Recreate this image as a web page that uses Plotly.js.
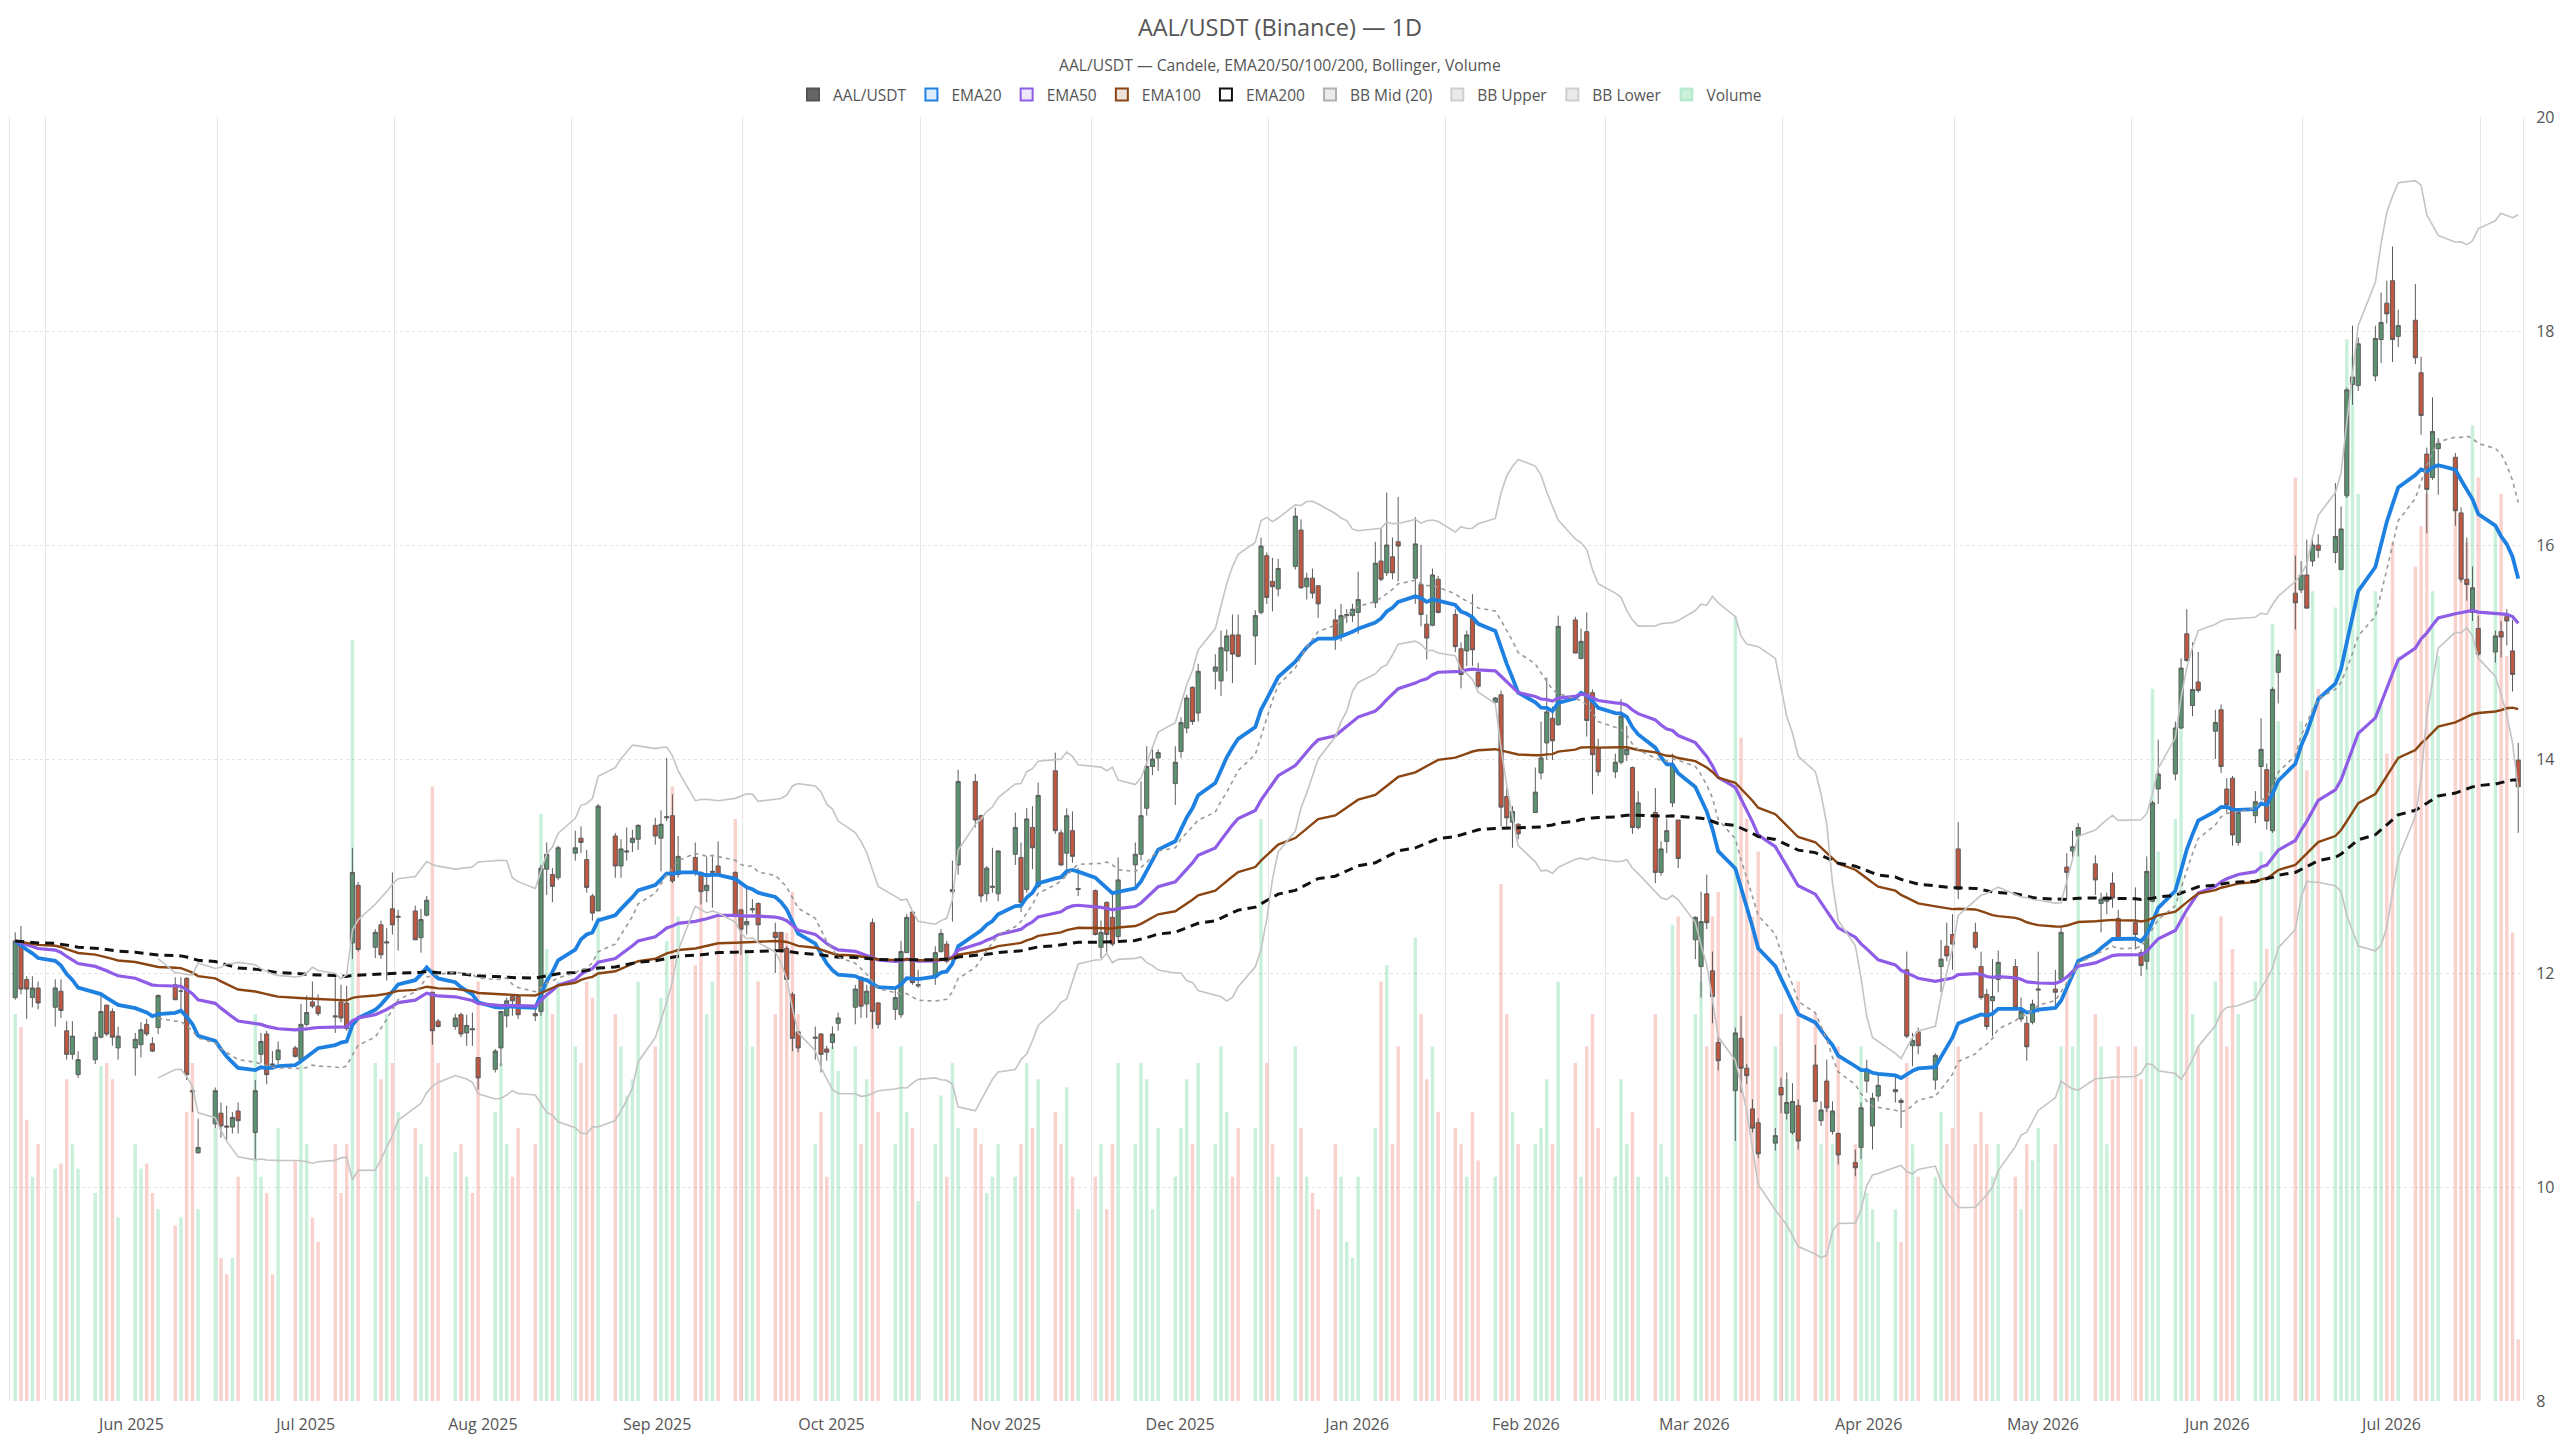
<!DOCTYPE html>
<html>
<head>
<meta charset="utf-8">
<title>AAL/USDT (Binance) — 1D</title>
<script src="https://cdn.plot.ly/plotly-3.0.1.min.js"></script>
<style>
  html, body { margin: 0; padding: 0; background: #fff; }
  #chart { width: 2560px; height: 1440px; }
</style>
</head>
<body>
<div id="chart"></div>
<script>
// daily candles, Mon-Fri, first session 2025-05-26 (one row per week)
const firstDay = '2025-05-26';

const open = [
  11.77, 12.28, 11.94, 11.77, 11.86,  11.68, 11.83, 11.46, 11.24, 11.05,
  11.19, 11.40, 11.70, 11.64, 11.30,  11.30, 11.33, 11.52, 11.34, 11.49,
  11.89, 11.83, 11.95, 10.90, 10.32,  10.59, 10.69, 10.57, 10.56, 10.71,
  10.51, 11.24, 11.43, 11.15, 11.19,  11.30, 11.19, 11.52, 11.73, 11.69,
  11.60, 11.73, 11.72, 12.28, 12.82,  12.24, 12.45, 12.28, 12.60, 12.52,
  12.58, 12.33, 12.54, 11.82, 11.55,  11.50, 11.61, 11.44, 11.48, 11.21,
  11.10, 11.30, 11.60, 11.78, 11.78,  11.62, 11.64, 12.97, 12.92, 12.89,
  13.12, 13.26, 13.06, 12.72, 12.58,  13.28, 13.00, 13.13, 13.22, 13.25,
  13.38, 13.26, 13.45, 13.47, 12.92,  13.08, 12.94, 12.77, 12.94, 13.00,
  12.94, 12.59, 12.45, 12.59, 12.65,  12.38, 12.38, 12.23, 11.80, 11.45,
  11.39, 11.43, 11.29, 11.35, 11.53,  11.68, 11.96, 11.71, 12.47, 11.72,
  11.66, 11.61, 12.19, 12.57, 11.88,  11.96, 12.20, 12.27, 12.76, 13.01,
  13.79, 13.47, 12.74, 12.80, 12.74,  13.11, 13.08, 12.78, 13.36, 12.81,
  13.89, 13.31, 13.12, 13.33, 12.78,  12.77, 12.24, 12.66, 12.52, 12.34,
  13.01, 13.11, 13.54, 13.93, 14.01,  13.77, 14.07, 14.29, 14.67, 14.43,
  14.82, 14.73, 15.01, 15.16, 15.16,  15.15, 15.37, 15.90, 15.66, 15.59,
  15.80, 16.14, 15.61, 15.69, 15.62,  15.30, 15.15, 15.34, 15.34, 15.37,
  15.46, 15.85, 15.74, 15.89, 16.03,  15.69, 15.63, 15.26, 15.25, 15.68,
  15.35, 15.03, 15.01, 15.32, 14.81,  14.53, 14.60, 13.65, 13.41, 13.39,
  13.50, 13.87, 14.15, 14.38, 14.32,  15.30, 14.94, 15.19, 14.62, 14.10,
  13.88, 13.97, 14.04, 13.92, 13.36,  13.50, 12.94, 13.23, 13.59, 13.43,
  12.31, 12.06, 12.74, 12.02, 11.35,  10.90, 11.39, 11.11, 10.73, 10.60,
  10.41, 10.93, 10.69, 10.51, 10.76,  11.14, 10.62, 10.99, 10.52, 10.50,
  10.23, 10.37, 10.99, 10.57, 10.85,  10.89, 10.81, 12.03, 11.32, 11.45,
  11.00, 12.06, 12.25, 12.36, 13.16,  12.38, 12.06, 11.80, 11.74, 11.94,
  12.06, 11.57, 11.53, 11.54, 11.84,  11.85, 11.94, 12.99, 13.14, 13.28,
  13.02, 12.65, 12.67, 12.84, 12.51,  12.47, 12.19, 12.11, 12.67, 13.72,
  13.86, 14.29, 15.17, 14.50, 14.72,  14.26, 14.46, 13.72, 13.82, 13.22,
  13.47, 13.93, 13.90, 13.33, 14.81,  15.55, 15.58, 15.72, 15.85, 16.00,
  15.93, 15.77, 16.46, 17.50, 17.49,  17.58, 17.92, 18.26, 18.47, 17.95,
  18.10, 17.61, 16.85, 16.63, 16.90,  16.82, 16.30, 15.68, 15.37, 15.22,
  15.00, 15.19, 15.33, 15.01, 13.99
];

const high = [
  12.38, 12.44, 11.97, 11.97, 11.92,  11.94, 11.94, 11.55, 11.55, 11.27,
  11.45, 11.80, 11.70, 11.67, 11.50,  11.44, 11.54, 11.57, 11.40, 11.80,
  11.96, 11.96, 11.96, 10.94, 10.64,  10.93, 10.79, 10.76, 10.70, 10.79,
  11.00, 11.44, 11.46, 11.27, 11.36,  11.32, 11.71, 11.79, 11.92, 11.80,
  11.96, 11.89, 11.88, 13.17, 12.85,  12.41, 12.49, 12.42, 12.94, 12.59,
  12.63, 12.60, 12.72, 11.82, 11.57,  11.62, 11.63, 11.61, 11.63, 11.21,
  11.29, 11.64, 11.77, 11.78, 11.80,  11.69, 13.01, 13.22, 12.98, 13.19,
  13.33, 13.37, 13.15, 12.74, 13.58,  13.31, 13.25, 13.36, 13.34, 13.39,
  13.45, 13.52, 14.01, 13.67, 13.28,  13.22, 12.95, 13.09, 13.09, 13.23,
  12.95, 12.60, 12.81, 12.69, 12.66,  12.47, 12.38, 12.25, 11.82, 11.46,
  11.50, 11.44, 11.32, 11.50, 11.63,  11.89, 11.97, 11.89, 12.51, 11.73,
  11.85, 12.30, 12.55, 12.58, 12.03,  12.25, 12.41, 12.30, 13.05, 13.90,
  13.86, 13.48, 13.00, 13.17, 13.15,  13.50, 13.22, 13.54, 13.56, 13.78,
  14.06, 13.34, 13.54, 13.51, 12.98,  12.78, 12.49, 12.67, 12.75, 13.08,
  13.22, 13.79, 14.12, 14.10, 14.09,  14.12, 14.39, 14.60, 14.68, 14.89,
  14.98, 15.20, 15.21, 15.35, 15.35,  15.39, 16.07, 15.93, 15.88, 15.87,
  16.35, 16.24, 15.74, 15.78, 15.62,  15.40, 15.45, 15.40, 15.45, 15.75,
  16.03, 16.16, 16.49, 16.07, 16.45,  16.26, 16.00, 15.35, 15.78, 15.71,
  15.40, 15.09, 15.20, 15.54, 14.90,  14.58, 14.64, 13.73, 13.56, 13.40,
  13.92, 14.35, 14.76, 14.49, 15.34,  15.33, 15.22, 15.37, 14.65, 14.19,
  14.05, 14.56, 14.31, 13.93, 13.70,  13.73, 13.23, 13.44, 14.05, 13.43,
  12.53, 12.76, 12.92, 12.20, 11.41,  11.49, 11.60, 11.15, 10.82, 10.64,
  10.55, 11.02, 11.07, 10.97, 10.82,  11.33, 10.80, 11.19, 10.80, 10.51,
  10.35, 10.79, 11.19, 10.88, 11.05,  11.04, 10.83, 12.20, 11.44, 11.49,
  11.25, 12.31, 12.47, 12.55, 13.41,  12.47, 12.20, 11.85, 12.13, 12.21,
  12.13, 11.77, 11.60, 11.75, 12.20,  12.03, 12.44, 13.12, 13.33, 13.40,
  13.10, 12.75, 12.75, 12.94, 12.59,  12.80, 12.22, 13.09, 13.61, 14.18,
  14.35, 14.94, 15.40, 15.09, 15.00,  14.46, 14.51, 13.82, 13.84, 13.52,
  13.70, 14.38, 13.96, 14.67, 15.02,  15.90, 15.85, 16.05, 16.07, 16.10,
  16.58, 16.36, 17.47, 18.05, 17.94,  18.05, 18.36, 18.47, 18.79, 18.20,
  18.44, 17.76, 16.91, 17.38, 17.00,  16.86, 16.35, 16.07, 15.80, 15.34,
  15.20, 15.29, 15.40, 15.30, 14.15
];

const low = [
  11.75, 11.80, 11.57, 11.68, 11.66,  11.50, 11.58, 11.19, 11.19, 11.02,
  11.15, 11.39, 11.41, 11.32, 11.19,  11.04, 11.21, 11.41, 11.26, 11.43,
  11.75, 11.63, 11.00, 10.70, 10.31,  10.55, 10.46, 10.44, 10.50, 10.50,
  10.26, 11.16, 10.96, 11.13, 11.15,  11.21, 11.16, 11.50, 11.67, 11.60,
  11.44, 11.54, 11.46, 12.13, 12.20,  12.14, 12.13, 11.93, 12.36, 12.21,
  12.31, 12.19, 12.53, 11.33, 11.49,  11.47, 11.40, 11.32, 11.32, 10.91,
  11.07, 11.13, 11.49, 11.60, 11.57,  11.55, 11.60, 12.73, 12.66, 12.87,
  13.05, 13.12, 12.75, 12.49, 12.58,  12.89, 12.89, 13.05, 13.13, 13.15,
  13.20, 12.95, 13.42, 12.84, 12.89,  12.91, 12.64, 12.66, 12.61, 12.91,
  12.52, 12.17, 12.36, 12.56, 12.31,  12.00, 12.19, 11.94, 11.27, 11.26,
  11.19, 11.07, 11.18, 11.29, 11.46,  11.52, 11.58, 11.58, 11.48, 11.48,
  11.56, 11.58, 12.19, 11.89, 11.86,  11.89, 12.19, 12.09, 12.48, 12.92,
  13.36, 12.66, 12.67, 12.75, 12.67,  13.01, 12.57, 12.75, 12.97, 12.79,
  13.30, 13.00, 12.91, 13.03, 12.72,  12.35, 12.14, 12.19, 12.25, 12.30,
  12.81, 13.05, 13.47, 13.85, 13.89,  13.57, 14.01, 14.24, 14.32, 14.35,
  14.65, 14.59, 14.82, 14.71, 14.95,  14.88, 15.35, 15.45, 15.38, 15.52,
  15.77, 15.59, 15.49, 15.50, 15.32,  15.02, 15.10, 15.27, 15.28, 15.17,
  15.41, 15.66, 15.71, 15.68, 15.66,  15.45, 15.24, 14.93, 15.24, 15.36,
  15.00, 14.66, 14.87, 14.87, 14.66,  14.52, 13.37, 13.37, 13.17, 13.25,
  13.50, 13.81, 13.99, 13.99, 14.31,  14.99, 14.93, 14.21, 13.67, 13.84,
  13.82, 13.95, 13.98, 13.30, 13.34,  12.84, 12.91, 13.12, 13.55, 12.98,
  12.13, 11.77, 12.41, 11.53, 11.09,  10.43, 10.88, 10.96, 10.51, 10.27,
  10.34, 10.69, 10.63, 10.49, 10.35,  10.79, 10.57, 10.70, 10.49, 10.21,
  10.10, 10.26, 10.88, 10.35, 10.80,  10.79, 10.55, 11.39, 11.13, 11.24,
  10.91, 11.82, 12.11, 12.03, 12.69,  12.22, 11.75, 11.47, 11.41, 11.82,
  11.66, 11.54, 11.18, 11.52, 11.63,  11.68, 11.92, 12.69, 13.06, 13.09,
  12.73, 12.38, 12.55, 12.61, 12.30,  12.22, 11.97, 12.03, 12.66, 13.58,
  13.80, 14.28, 14.91, 14.40, 14.62,  14.00, 13.87, 13.50, 13.19, 13.19,
  13.40, 13.62, 13.34, 13.31, 14.52,  15.21, 15.55, 15.41, 15.80, 15.88,
  15.83, 15.77, 16.44, 17.31, 17.44,  17.53, 17.70, 18.07, 17.71, 17.85,
  17.69, 17.03, 16.11, 16.61, 16.47,  16.18, 15.65, 15.48, 15.29, 14.96,
  14.90, 14.95, 15.06, 14.63, 13.31
];

const close = [
  12.30, 11.85, 11.85, 11.86, 11.72,  11.86, 11.65, 11.24, 11.41, 11.19,
  11.40, 11.64, 11.43, 11.40, 11.41,  11.38, 11.47, 11.43, 11.27, 11.79,
  11.75, 11.83, 11.05, 10.89, 10.37,  10.90, 10.57, 10.56, 10.65, 10.62,
  10.90, 11.36, 11.05, 11.14, 11.28,  11.22, 11.52, 11.63, 11.69, 11.62,
  11.59, 11.58, 11.48, 12.94, 12.22,  12.38, 12.17, 12.29, 12.45, 12.53,
  12.31, 12.50, 12.68, 11.46, 11.50,  11.58, 11.43, 11.51, 11.47, 11.02,
  11.27, 11.64, 11.74, 11.74, 11.61,  11.60, 12.98, 13.11, 12.81, 13.17,
  13.17, 13.22, 12.80, 12.56, 13.56,  13.00, 13.16, 13.14, 13.26, 13.38,
  13.28, 13.39, 13.46, 12.86, 13.09,  12.95, 12.76, 12.82, 12.95, 12.91,
  12.53, 12.41, 12.48, 12.60, 12.45,  12.33, 12.21, 11.94, 11.39, 11.30,
  11.40, 11.24, 11.26, 11.43, 11.58,  11.85, 11.69, 11.83, 11.64, 11.52,
  11.77, 12.20, 12.52, 11.91, 11.89,  12.19, 12.37, 12.11, 12.78, 13.79,
  13.43, 12.72, 12.98, 12.81, 13.14,  13.36, 12.66, 13.44, 13.17, 13.66,
  13.33, 13.01, 13.47, 13.09, 12.79,  12.36, 12.38, 12.36, 12.27, 12.87,
  13.11, 13.47, 13.93, 14.00, 14.06,  13.97, 14.34, 14.57, 14.35, 14.82,
  14.86, 15.04, 15.15, 14.98, 14.96,  15.34, 15.99, 15.51, 15.61, 15.78,
  16.27, 15.60, 15.69, 15.55, 15.45,  15.13, 15.34, 15.35, 15.40, 15.49,
  15.83, 15.68, 16.00, 15.74, 15.99,  16.01, 15.35, 15.13, 15.72, 15.37,
  15.05, 14.79, 15.16, 15.02, 14.68,  14.57, 13.55, 13.45, 13.51, 13.30,
  13.69, 14.01, 14.44, 14.17, 15.24,  14.99, 15.10, 14.36, 14.04, 13.88,
  13.97, 14.40, 14.09, 13.36, 13.59,  12.94, 13.16, 13.33, 13.95, 13.07,
  12.52, 12.48, 12.47, 11.78, 11.18,  11.44, 11.11, 11.04, 10.55, 10.31,
  10.48, 10.86, 10.79, 10.80, 10.43,  10.80, 10.72, 10.74, 10.71, 10.30,
  10.18, 10.74, 11.10, 10.83, 10.95,  10.91, 10.79, 11.41, 11.37, 11.32,
  11.23, 12.13, 12.16, 12.27, 12.78,  12.24, 11.77, 11.50, 11.78, 12.10,
  11.68, 11.64, 11.31, 11.71, 11.85,  11.82, 12.38, 12.94, 13.18, 13.36,
  12.87, 12.69, 12.71, 12.70, 12.31,  12.36, 12.07, 12.95, 13.59, 13.86,
  14.29, 14.85, 14.92, 14.65, 14.64,  14.34, 13.93, 13.57, 13.29, 13.50,
  13.60, 14.09, 13.42, 14.65, 14.98,  15.46, 15.72, 15.41, 16.00, 15.95,
  16.08, 16.15, 17.45, 17.57, 17.88,  17.93, 18.08, 18.16, 17.92, 18.05,
  17.75, 17.21, 16.52, 17.06, 16.95,  16.32, 15.68, 15.63, 15.60, 14.98,
  15.15, 15.14, 15.29, 14.79, 13.74
];

// volume, thousands
const volume = [
   904,  874,  657,  524,  600,   543,  555,  752,  600,  543,
   486,  783,  790,  752,  429,   600,  543,  555,  486,  448,
   410,  429,  676,  790,  448,   638,  334,  296,  334,  524,
   904,  524,  486,  296,  638,   562,  790,  600,  429,  372,
   600,  486,  600, 1778, 1132,   790,  752,  904,  790,  676,
   638,  600,  524, 1436,  790,   581,  600,  524,  486,  980,
   676,  790,  600,  524,  638,   600, 1372, 1056,  904,  980,
   828,  790,  980,  942, 1132,   904,  828,  714,  752,  980,
   828,  942, 1075, 1436, 1132,  1018, 1189,  904,  980, 1132,
  1360, 1208, 1056,  828,  980,   904, 1056, 1094, 1189,  904,
   600,  676,  524,  828,  771,   828,  600,  752,  999,  676,
   600,  828,  676,  638,  467,   600,  714,  524,  790,  638,
   638,  600,  486,  524,  600,   524,  600,  790,  638,  752,
   676,  600,  733,  524,  448,   524,  600,  448,  600,  790,
   600,  790,  752,  448,  638,   524,  638,  752,  600,  790,
   600,  828,  676,  524,  638,   638, 1360,  790,  600,  524,
   828,  638,  524,  486,  448,   600,  524,  372,  334,  524,
   638,  980, 1018,  600,  828,  1083,  904,  752,  828,  676,
   638,  600,  524,  676,  562,   524, 1208,  904,  676,  600,
   600,  638,  752,  600,  980,   790,  524,  828,  904,  638,
   524,  752,  600,  676,  524,   904,  600,  524, 1113, 1132,
   904,  980,  828, 1132, 1189,  1835, 1550, 1360, 1132, 1284,
   828,  904,  752,  676,  980,   904,  600,  752,  600,  828,
   600,  828,  486,  448,  372,   448,  372,  790,  600,  524,
   524,  676,  600,  638,  828,   600,  676,  600,  524,  600,
   524,  448,  600,  562,  638,   600,  828,  980,  828, 1322,
   904,  828,  600,  752,  828,   828,  752, 1208, 1664, 1284,
  1360, 1588, 1132,  904,  828,   980, 1132,  828, 1056,  904,
   980, 1284, 1056, 1816, 1588,  2158, 1588, 1474, 1892, 1664,
  1854, 2006, 2481, 2443, 2120,  1892, 1626, 1512, 2006, 1740,
  1949, 2044, 2120, 1892, 1740,  2155, 1968, 2006, 2280, 2158,
  2044, 2120, 1740, 1094,  144
];

function tradingDays(start, n) {
    const out = [];
    const d = new Date(start + 'T00:00:00Z');
    while (out.length < n) {
        const wd = d.getUTCDay();
        if (wd !== 0 && wd !== 6) {
            out.push(d.toISOString().slice(0, 10) + ' 16:00');
        }
        d.setUTCDate(d.getUTCDate() + 1);
    }
    return out;
}

function ema(values, span) {
    const k = 2 / (span + 1);
    const out = [];
    values.forEach((v, i) => {
        out.push(i === 0 ? v : v * k + out[i - 1] * (1 - k));
    });
    return out;
}

function bollinger(values, period, mult) {
    const mid = [], upper = [], lower = [];
    values.forEach((v, i) => {
        if (i < period - 1) {
            mid.push(null); upper.push(null); lower.push(null);
            return;
        }
        const win = values.slice(i - period + 1, i + 1);
        const mean = win.reduce((a, b) => a + b, 0) / period;
        const variance = win.reduce((a, b) => a + (b - mean) * (b - mean), 0) / (period - 1);
        const sd = Math.sqrt(variance);
        mid.push(mean);
        upper.push(mean + mult * sd);
        lower.push(mean - mult * sd);
    });
    return { mid, upper, lower };
}

const dates = tradingDays(firstDay, close.length);
const bb = bollinger(close, 20, 2);

const volColors = close.map((c, i) => c >= open[i] ? 'rgba(38, 194, 110, 0.25)' : 'rgba(231, 76, 60, 0.25)');

function line(name, values, color, width, dash) {
    return {
        type: 'scatter',
        mode: 'lines',
        name: name,
        legendgroup: name,
        showlegend: false,
        x: dates,
        y: values,
        xaxis: 'x',
        yaxis: 'y2',
        line: { color: color, width: width, dash: dash || 'solid' },
        hoverinfo: 'skip'
    };
}

// legend swatches (boxes) for each series, like the original legend
function swatch(name, fill, border) {
    return {
        type: 'bar',
        name: name,
        legendgroup: name,
        x: [null],
        y: [null],
        xaxis: 'x',
        yaxis: 'y2',
        marker: { color: fill, line: { color: border, width: 2 } },
        hoverinfo: 'skip'
    };
}

const data = [
    {
        type: 'candlestick',
        name: 'AAL/USDT',
        legendgroup: 'AAL/USDT',
        showlegend: false,
        x: dates,
        open: open,
        high: high,
        low: low,
        close: close,
        xaxis: 'x',
        yaxis: 'y2',
        whiskerwidth: 0,
        increasing: { line: { color: '#5c5c5c', width: 1 }, fillcolor: '#5b9270' },
        decreasing: { line: { color: '#5c5c5c', width: 1 }, fillcolor: '#bf5741' }
    },
    line('EMA20', ema(close, 20), '#1e80e0', 3.8),
    line('EMA50', ema(close, 50), '#8e5ce6', 3.2),
    line('EMA100', ema(close, 100), '#8b4513', 2.4),
    line('EMA200', ema(close, 200), '#111111', 3.0, '9px,6px'),
    line('BB Mid (20)', bb.mid, '#9a9a9a', 1.6, '4px,4px'),
    line('BB Upper', bb.upper, '#c4c4c4', 1.6),
    line('BB Lower', bb.lower, '#c4c4c4', 1.6),
    {
        type: 'bar',
        name: 'Volume',
        legendgroup: 'Volume',
        showlegend: false,
        x: dates,
        y: volume,
        xaxis: 'x',
        yaxis: 'y',
        width: 0.6 * 86400000,
        marker: { color: volColors, line: { width: 0 } },
        hoverinfo: 'skip'
    },
    swatch('AAL/USDT', '#666666', '#555555'),
    swatch('EMA20', 'rgba(30,128,224,0.15)', '#1e80e0'),
    swatch('EMA50', 'rgba(142,92,230,0.15)', '#8e5ce6'),
    swatch('EMA100', 'rgba(139,69,19,0.15)', '#8b4513'),
    swatch('EMA200', 'rgba(255,255,255,1)', '#111111'),
    swatch('BB Mid (20)', 'rgba(154,154,154,0.2)', '#b0b0b0'),
    swatch('BB Upper', 'rgba(194,194,194,0.35)', '#cfcfcf'),
    swatch('BB Lower', 'rgba(194,194,194,0.35)', '#cfcfcf'),
    swatch('Volume', 'rgba(38,194,110,0.25)', 'rgba(38,194,110,0.25)')
];

const layout = {
    width: 2560,
    height: 1440,
    paper_bgcolor: '#ffffff',
    plot_bgcolor: '#ffffff',
    font: { family: '"Open Sans", verdana, arial, sans-serif', color: '#555555', size: 15 },
    margin: { l: 10, r: 37, t: 117, b: 39 },
    title: {
        text: 'AAL/USDT (Binance) — 1D',
        x: 0.5,
        xref: 'container',
        xanchor: 'center',
        y: 1 - 28 / 1440,
        yref: 'container',
        yanchor: 'middle',
        font: { size: 23.5, color: '#555555' }
    },
    annotations: [{
        text: 'AAL/USDT — Candele, EMA20/50/100/200, Bollinger, Volume',
        xref: 'paper',
        yref: 'paper',
        x: (1280 - 10) / 2513,
        y: 1 + (117 - 65) / 1284,
        xanchor: 'center',
        yanchor: 'middle',
        showarrow: false,
        font: { size: 15.7, color: '#555555' }
    }],
    showlegend: true,
    legend: {
        orientation: 'h',
        x: (1280 - 10) / 2513,
        xref: 'paper',
        xanchor: 'center',
        y: 1 + (117 - 95) / 1284,
        yref: 'paper',
        yanchor: 'middle',
        font: { size: 15.5, color: '#555555' },
        bgcolor: 'rgba(0,0,0,0)',
        itemwidth: 30,
        traceorder: 'normal'
    },
    xaxis: {
        type: 'date',
        range: ['2025-05-25 18:00', '2026-08-08 12:00'],
        rangeslider: { visible: false },
        showgrid: true,
        gridcolor: '#e6e6e6',
        gridwidth: 1,
        tick0: '2025-06-01',
        dtick: 'M1',
        ticklabelmode: 'period',
        tickformat: '%b %Y',
        tickangle: 0,
        ticks: '',
        ticklabelstandoff: 12,
        tickfont: { size: 16, color: '#555555' },
        zeroline: false,
        showline: false,
        automargin: false
    },
    yaxis: {
        range: [0, 3000],
        visible: false,
        showgrid: false,
        zeroline: false,
        fixedrange: true
    },
    yaxis2: {
        overlaying: 'y',
        side: 'right',
        range: [8, 20],
        dtick: 2,
        showgrid: true,
        gridcolor: '#e3e3e3',
        griddash: 'dot',
        zeroline: false,
        showline: true,
        mirror: true,
        linecolor: '#e6e6e6',
        ticks: '',
        ticklabelstandoff: 9,
        tickfont: { size: 16, color: '#555555' },
        automargin: false
    },
    boxgap: 0.15,
    boxgroupgap: 0.15,
    barmode: 'overlay',
    hovermode: false
};

Plotly.newPlot('chart', data, layout, { displayModeBar: false, staticPlot: true });
</script>
</body>
</html>
